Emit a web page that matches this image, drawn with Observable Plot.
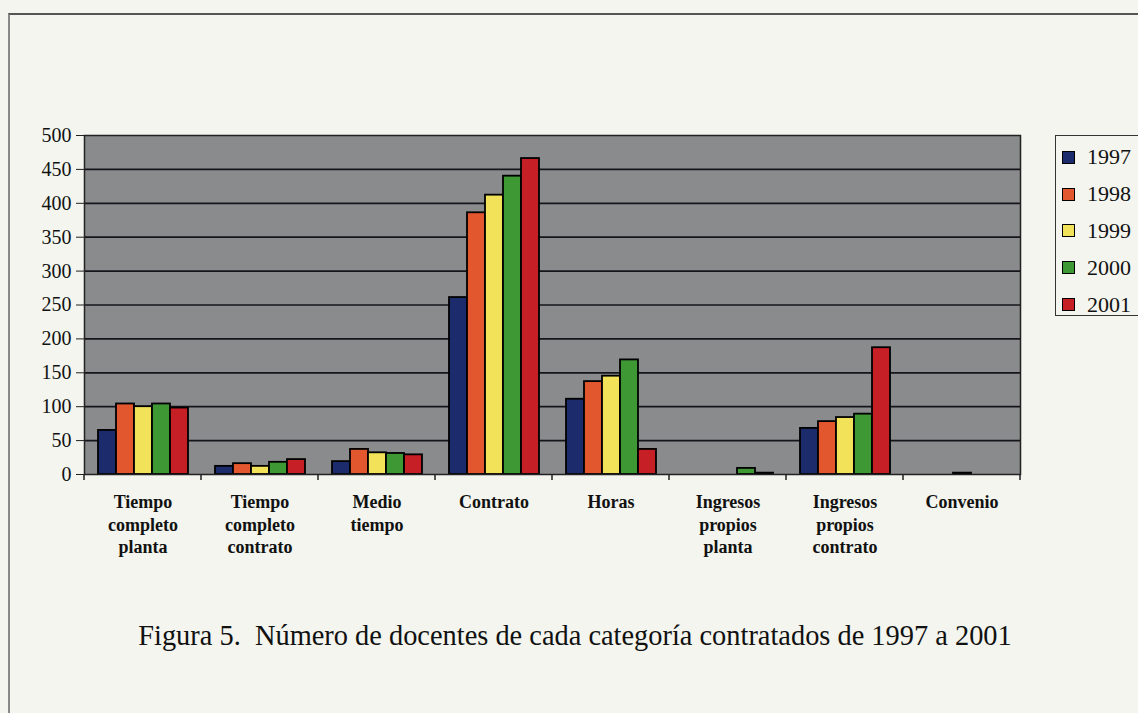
<!DOCTYPE html>
<html>
<head>
<meta charset="utf-8">
<script src="https://cdn.jsdelivr.net/npm/d3@7"></script>
<script src="https://cdn.jsdelivr.net/npm/@observablehq/plot@0.6"></script>
<style>
  html, body { margin: 0; padding: 0; background: #f3f5ee; }
  #page { position: relative; width: 1138px; height: 713px; overflow: hidden; font-family: 'Liberation Serif', 'Times New Roman', serif; color: #111; }
  #border { position: absolute; left: 8px; top: 13px; width: 1200px; height: 800px; border-top: 2px solid #555; border-left: 2px solid #888; }
  #chart { position: absolute; left: 0; top: 0; }
  #legend { position: absolute; left: 1055px; top: 135px; width: 110px; height: 181px; border: 1.5px solid #333; box-sizing: border-box; padding-top: 3px; }
  .item { display: flex; align-items: center; height: 36.8px; padding-left: 6px; font-size: 22px; font-family: 'Liberation Serif', serif; }
  .sw { width: 11px; height: 11px; border: 1.3px solid #000; margin-right: 12px; }
  #caption { position: absolute; left: 0; width: 1150px; top: 622px; line-height: 28px; text-align: center; font-size: 28.4px; white-space: pre; font-family: 'Liberation Serif', serif; }
</style>
</head>
<body>
<div id="page">
  <div id="border"></div>
  <div id="chart"></div>
  <div id="legend"></div>
  <div id="caption"></div>
</div>
<script>
// ---- data ----
const categories = [
  "Tiempo completo planta",
  "Tiempo completo contrato",
  "Medio tiempo",
  "Contrato",
  "Horas",
  "Ingresos propios planta",
  "Ingresos propios contrato",
  "Convenio"
];
const categoryLabels = [
  "Tiempo\ncompleto\nplanta",
  "Tiempo\ncompleto\ncontrato",
  "Medio\ntiempo",
  "Contrato",
  "Horas",
  "Ingresos\npropios\nplanta",
  "Ingresos\npropios\ncontrato",
  "Convenio"
];
const years = ["1997", "1998", "1999", "2000", "2001"];
const v1997 = [65, 12, 19, 261, 111, 0, 68, 0];
const v1998 = [104, 16, 37, 386, 137, 0, 78, 0];
const v1999 = [100, 12, 32, 412, 145, 0, 84, 2];
const v2000 = [104, 18, 31, 440, 169, 9, 89, 0];
const v2001 = [98, 22, 29, 466, 37, 2, 187, 0];
const yTicks = [0, 50, 100, 150, 200, 250, 300, 350, 400, 450, 500];
const colors = ["#1c2b6c", "#e2572e", "#f1e25a", "#3e9834", "#c61f26"];
const captionText = "Figura 5.  Número de docentes de cada categoría contratados de 1997 a 2001";

const series = [v1997, v1998, v1999, v2000, v2001];
const data = categories.flatMap((c, i) =>
  years.map((y, j) => ({category: c, year: y, value: series[j][i]}))
).filter(d => d.value > 0);
const labelOf = new Map(categories.map((c, i) => [c, categoryLabels[i]]));

const boundaryTicks = Plot.frame({
  facet: "super",
  render: (index, scales, values, dims) => {
    const n = categories.length;
    const left = dims.marginLeft, right = dims.width - dims.marginRight;
    const step = (right - left) / n;
    const xs = d3.range(n + 1).map(i => left + i * step);
    const bottom = dims.height - dims.marginBottom;
    const g = d3.create("svg:g");
    g.selectAll("line").data(xs).join("line")
      .attr("x1", d => d).attr("x2", d => d)
      .attr("y1", bottom).attr("y2", bottom + 6)
      .attr("stroke", "#222").attr("stroke-width", 1.5);
    return g.node();
  }
});

const chart = Plot.plot({
  width: 1138,
  height: 580,
  marginTop: 135,
  marginRight: 116,
  marginBottom: 106,
  marginLeft: 81,
  style: {background: "transparent", fontFamily: "'Liberation Serif', 'Times New Roman', serif", color: "#111", overflow: "visible"},
  fx: {domain: categories, padding: 0, label: null},
  x: {domain: years, paddingInner: 0, paddingOuter: 0.62, axis: null},
  y: {domain: [0, 500], label: null},
  color: {domain: years, range: colors},
  marks: [
    Plot.frame({facet: "super", fill: "#8a8b8c"}),
    Plot.ruleY(yTicks.slice(1, -1), {stroke: "#15151c", strokeWidth: 1.7}),
    Plot.barY(data, {fx: "category", x: "year", y: "value", fill: "year", stroke: "#000", strokeWidth: 1.8}),
    Plot.frame({facet: "super", stroke: "#222", strokeWidth: 1.5}),
    Plot.axisY({ticks: yTicks, tickSize: 8, tickPadding: 5, fontSize: 20, label: null, stroke: "#222"}),
    Plot.axisFx({anchor: "bottom", tickSize: 0, tickPadding: 18, fontSize: 18, fontWeight: "bold", lineHeight: 1.25, label: null, tickFormat: c => labelOf.get(c)}),
    boundaryTicks
  ]
});

// scanned-paper grain on the plot background
const svg = d3.select(chart);
const defs = svg.insert("defs", ":first-child");
const f = defs.append("filter").attr("id", "grain")
  .attr("x", 0).attr("y", 0).attr("width", "100%").attr("height", "100%")
  .attr("color-interpolation-filters", "sRGB");
f.append("feTurbulence").attr("type", "fractalNoise").attr("baseFrequency", 0.9)
  .attr("numOctaves", 2).attr("seed", 7).attr("result", "noise");
f.append("feComposite").attr("in", "SourceGraphic").attr("in2", "noise")
  .attr("operator", "arithmetic").attr("k1", 0).attr("k2", 1).attr("k3", 0.45).attr("k4", -0.225)
  .attr("result", "mix");
f.append("feComposite").attr("in", "mix").attr("in2", "SourceGraphic").attr("operator", "in");
const bgRect = svg.select("g[aria-label='frame'] rect");
bgRect.attr("filter", "url(#grain)");

document.getElementById("chart").append(chart);

const legend = d3.select("#legend");
years.forEach((y, i) => {
  const it = legend.append("div").attr("class", "item");
  it.append("div").attr("class", "sw").style("background", colors[i]);
  it.append("span").text(y);
});
document.getElementById("caption").textContent = captionText;
</script>
</body>
</html>
